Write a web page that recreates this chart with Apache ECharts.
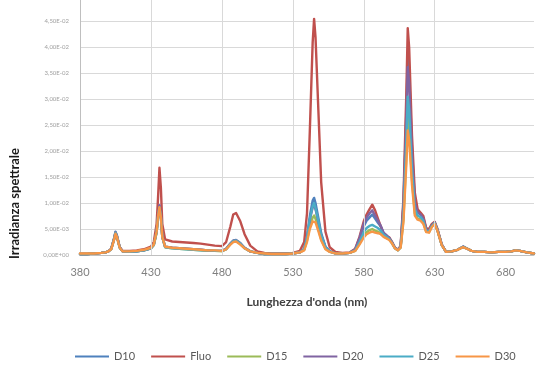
<!DOCTYPE html>
<html>
<head>
<meta charset="utf-8">
<title>Irradianza spettrale</title>
<script src="https://cdn.jsdelivr.net/npm/echarts@6/dist/echarts.min.js"></script>
<style>
  html, body { margin: 0; padding: 0; background: #ffffff; }
  #chart { width: 558px; height: 365px; }
</style>
</head>
<body>
<div id="chart"></div>
<script>
// Wavelengths (nm), denser sampling around the emission lines
const wavelengths = [
  380, 385, 390, 395, 398, 400, 402, 404, 405, 406, 408, 410,
  415, 420, 425, 430, 432, 434, 435, 436, 437, 438, 440,
  445, 450, 455, 460, 465, 470, 475, 480, 483, 486, 488, 490, 493, 496, 500,
  505, 510, 515, 520, 525, 530, 535, 538, 540, 542, 544, 545, 546, 548, 550, 553, 556, 560,
  565, 570, 574, 577, 580, 582, 584, 586, 588, 590, 592, 594, 596, 598, 600, 602, 604, 606, 608,
  610, 611, 612, 614, 616, 618, 620, 622, 624, 626, 628, 630, 632, 635, 638,
  642, 646, 650, 653, 656, 660, 665, 670, 675, 680, 684, 687, 690, 695, 700
];

// Spectral irradiance, in units of 1E-02
const d10 = [
  0.02, 0.02, 0.03, 0.04, 0.05, 0.07, 0.12, 0.32, 0.45, 0.38, 0.15, 0.07,
  0.06, 0.07, 0.09, 0.13, 0.20, 0.45, 0.75, 0.94, 0.75, 0.35, 0.16,
  0.14, 0.13, 0.12, 0.11, 0.10, 0.09, 0.08, 0.08, 0.12, 0.22, 0.27, 0.28, 0.22, 0.14, 0.07,
  0.04, 0.02, 0.02, 0.02, 0.02, 0.03, 0.05, 0.12, 0.35, 0.75, 1.05, 1.10, 1.00, 0.72, 0.42, 0.16, 0.07, 0.03,
  0.03, 0.04, 0.10, 0.30, 0.55, 0.66, 0.72, 0.78, 0.70, 0.62, 0.55, 0.42, 0.38, 0.32, 0.24, 0.14, 0.10, 0.16, 1.00,
  2.75, 3.85, 3.52, 2.05, 1.05, 0.84, 0.80, 0.72, 0.50, 0.47, 0.58, 0.63, 0.48, 0.20, 0.06,
  0.07, 0.10, 0.16, 0.12, 0.08, 0.06, 0.06, 0.05, 0.06, 0.06, 0.07, 0.09, 0.08, 0.05, 0.03
];
const fluo = [
  0.02, 0.02, 0.03, 0.04, 0.05, 0.07, 0.12, 0.30, 0.42, 0.36, 0.15, 0.08,
  0.08, 0.09, 0.11, 0.16, 0.25, 0.60, 1.10, 1.68, 1.30, 0.60, 0.30,
  0.26, 0.25, 0.24, 0.23, 0.22, 0.20, 0.18, 0.17, 0.25, 0.55, 0.78, 0.81, 0.65, 0.40, 0.18,
  0.07, 0.04, 0.03, 0.03, 0.03, 0.04, 0.08, 0.25, 0.80, 2.40, 4.10, 4.55, 4.20, 2.80, 1.40, 0.45, 0.15, 0.06,
  0.04, 0.05, 0.12, 0.35, 0.65, 0.78, 0.88, 0.97, 0.86, 0.70, 0.55, 0.40, 0.36, 0.34, 0.25, 0.14, 0.10, 0.18, 1.10,
  3.10, 4.37, 4.00, 2.30, 1.20, 0.88, 0.82, 0.75, 0.52, 0.50, 0.60, 0.64, 0.50, 0.20, 0.06,
  0.07, 0.10, 0.16, 0.12, 0.08, 0.06, 0.06, 0.05, 0.06, 0.06, 0.07, 0.09, 0.08, 0.05, 0.03
];
const d15 = [
  0.02, 0.02, 0.03, 0.04, 0.05, 0.07, 0.11, 0.30, 0.42, 0.35, 0.14, 0.07,
  0.06, 0.07, 0.09, 0.13, 0.19, 0.43, 0.72, 0.90, 0.72, 0.34, 0.15,
  0.13, 0.12, 0.11, 0.10, 0.09, 0.08, 0.08, 0.07, 0.11, 0.21, 0.26, 0.27, 0.21, 0.13, 0.07,
  0.04, 0.02, 0.02, 0.02, 0.02, 0.03, 0.05, 0.10, 0.28, 0.55, 0.72, 0.76, 0.70, 0.50, 0.30, 0.12, 0.06, 0.03,
  0.03, 0.04, 0.08, 0.22, 0.38, 0.44, 0.48, 0.50, 0.47, 0.45, 0.42, 0.36, 0.33, 0.30, 0.22, 0.13, 0.09, 0.14, 0.70,
  1.90, 2.65, 2.45, 1.45, 0.80, 0.70, 0.68, 0.62, 0.45, 0.44, 0.55, 0.61, 0.47, 0.19, 0.06,
  0.07, 0.10, 0.15, 0.12, 0.08, 0.06, 0.06, 0.05, 0.06, 0.06, 0.07, 0.09, 0.08, 0.05, 0.03
];
const d20 = [
  0.02, 0.02, 0.03, 0.04, 0.05, 0.07, 0.12, 0.31, 0.44, 0.37, 0.15, 0.07,
  0.06, 0.07, 0.09, 0.13, 0.20, 0.46, 0.77, 0.96, 0.77, 0.36, 0.16,
  0.14, 0.13, 0.12, 0.11, 0.10, 0.09, 0.08, 0.08, 0.12, 0.22, 0.28, 0.29, 0.23, 0.14, 0.07,
  0.04, 0.02, 0.02, 0.02, 0.02, 0.03, 0.05, 0.11, 0.32, 0.68, 0.92, 0.97, 0.88, 0.64, 0.38, 0.15, 0.07, 0.03,
  0.03, 0.04, 0.11, 0.33, 0.60, 0.72, 0.80, 0.86, 0.76, 0.66, 0.56, 0.43, 0.38, 0.33, 0.24, 0.14, 0.10, 0.16, 0.95,
  2.58, 3.62, 3.32, 1.95, 1.00, 0.82, 0.78, 0.70, 0.49, 0.47, 0.57, 0.63, 0.48, 0.20, 0.06,
  0.07, 0.10, 0.16, 0.12, 0.08, 0.06, 0.06, 0.05, 0.06, 0.06, 0.07, 0.09, 0.08, 0.05, 0.03
];
const d25 = [
  0.02, 0.02, 0.03, 0.04, 0.05, 0.07, 0.11, 0.30, 0.43, 0.36, 0.14, 0.07,
  0.06, 0.07, 0.09, 0.13, 0.19, 0.44, 0.74, 0.92, 0.74, 0.35, 0.15,
  0.13, 0.12, 0.11, 0.10, 0.09, 0.09, 0.08, 0.08, 0.11, 0.21, 0.27, 0.28, 0.22, 0.13, 0.07,
  0.04, 0.02, 0.02, 0.02, 0.02, 0.03, 0.05, 0.11, 0.33, 0.70, 0.94, 1.00, 0.90, 0.66, 0.38, 0.15, 0.07, 0.03,
  0.03, 0.04, 0.09, 0.25, 0.44, 0.52, 0.56, 0.58, 0.55, 0.52, 0.47, 0.39, 0.35, 0.31, 0.23, 0.13, 0.09, 0.15, 0.80,
  2.18, 3.05, 2.80, 1.65, 0.88, 0.76, 0.73, 0.66, 0.47, 0.45, 0.56, 0.62, 0.47, 0.19, 0.06,
  0.07, 0.10, 0.16, 0.12, 0.08, 0.06, 0.06, 0.05, 0.06, 0.06, 0.07, 0.09, 0.08, 0.05, 0.03
];
const d30 = [
  0.03, 0.03, 0.03, 0.04, 0.05, 0.07, 0.11, 0.29, 0.41, 0.35, 0.14, 0.07,
  0.07, 0.08, 0.10, 0.14, 0.20, 0.45, 0.74, 0.92, 0.73, 0.35, 0.16,
  0.14, 0.13, 0.12, 0.11, 0.10, 0.09, 0.09, 0.08, 0.11, 0.20, 0.25, 0.26, 0.20, 0.13, 0.07,
  0.04, 0.03, 0.02, 0.02, 0.02, 0.03, 0.05, 0.09, 0.25, 0.50, 0.65, 0.68, 0.63, 0.46, 0.28, 0.11, 0.06, 0.03,
  0.03, 0.04, 0.08, 0.20, 0.34, 0.40, 0.43, 0.45, 0.43, 0.42, 0.40, 0.35, 0.32, 0.29, 0.22, 0.13, 0.09, 0.14, 0.65,
  1.74, 2.40, 2.22, 1.35, 0.76, 0.68, 0.66, 0.60, 0.44, 0.43, 0.54, 0.60, 0.46, 0.19, 0.06,
  0.07, 0.10, 0.15, 0.12, 0.08, 0.06, 0.06, 0.05, 0.06, 0.06, 0.07, 0.09, 0.08, 0.05, 0.03
];

const seriesNames = ['D10', 'Fluo', 'D15', 'D20', 'D25', 'D30'];
const seriesValues = [d10, fluo, d15, d20, d25, d30];
const seriesColors = ['#4F81BD', '#C0504D', '#9BBB59', '#8064A2', '#4BACC6', '#F79646'];

// Axis ticks
const xTickStart = 380, xTickEnd = 700, xTickStep = 50;
const yTickMax = 5, yTickStep = 0.5;
const valueScale = 1e-2;
const xGridLines = [430, 480, 530, 580, 630];

// "4,50E-02" style scientific labels
function sciLabel(v) {
  const s = (v * valueScale).toExponential(2);
  const parts = s.split('e');
  const mant = parts[0].replace('.', ',');
  let exp = parseInt(parts[1], 10);
  if (v === 0) exp = 0;
  const sign = exp < 0 ? '-' : '+';
  const e = Math.abs(exp);
  return mant + 'E' + sign + (e < 10 ? '0' + e : e);
}

const chart = echarts.init(document.getElementById('chart'), null, { renderer: 'canvas' });

const series = seriesNames.map((name, i) => ({
  name: name,
  type: 'line',
  data: wavelengths.map((w, k) => [w, seriesValues[i][k]]),
  showSymbol: false,
  symbol: 'none',
  smooth: false,
  z: 3,
  lineStyle: { color: seriesColors[i], width: 2.4, join: 'round', cap: 'round' },
  itemStyle: { color: seriesColors[i] }
}));

// vertical gridlines at the labelled wavelengths
series.unshift({
  name: 'grid',
  type: 'line',
  data: [],
  z: 1,
  silent: true,
  markLine: {
    silent: true,
    symbol: 'none',
    label: { show: false },
    lineStyle: { color: '#d9d9d9', width: 1, type: 'solid' },
    data: xGridLines.map(v => ({ xAxis: v }))
  }
});

chart.setOption({
  animation: false,
  backgroundColor: '#ffffff',
  textStyle: { fontFamily: 'Lato, "Open Sans", sans-serif' },
  grid: {
    left: 80, right: 24, top: -4.5, bottom: 110,
    containLabel: false,
    outerBoundsMode: 'none'
  },
  legend: {
    data: seriesNames,
    left: 70,
    top: 346,
    icon: 'rect',
    itemWidth: 34,
    itemHeight: 2,
    itemGap: 16,
    textStyle: { color: '#595959', fontSize: 11, fontFamily: 'Lato, sans-serif' }
  },
  xAxis: {
    type: 'value',
    min: xTickStart,
    max: xTickEnd,
    interval: xTickStep,
    name: "Lunghezza d'onda (nm)",
    nameLocation: 'middle',
    nameGap: 41,
    nameTextStyle: { color: '#404040', fontSize: 12, fontWeight: 'bold', fontFamily: 'Lato, sans-serif' },
    axisLine: { show: true, onZero: false, lineStyle: { color: '#bfbfbf', width: 1 } },
    axisTick: { show: false },
    splitLine: { show: false },
    axisLabel: {
      color: '#7f7f7f', fontSize: 11, margin: 12,
      showMaxLabel: false,
      formatter: v => String(v)
    }
  },
  yAxis: {
    type: 'value',
    min: 0,
    max: yTickMax,
    interval: yTickStep,
    axisLine: { show: true, lineStyle: { color: '#bfbfbf', width: 1 } },
    axisTick: { show: false },
    splitLine: { show: true, lineStyle: { color: '#d9d9d9', width: 1 } },
    axisLabel: {
      color: '#a0a0a0', fontSize: 6, margin: 11,
      formatter: sciLabel
    }
  },
  graphic: [{
    type: 'text',
    left: 8,
    top: 148,
    rotation: Math.PI / 2,
    style: {
      text: 'Irradianza spettrale',
      fill: '#1a1a1a',
      font: 'bold 13px Lato, sans-serif',
      textAlign: 'center',
      textVerticalAlign: 'middle'
    }
  }],
  series: series
});
</script>
</body>
</html>
